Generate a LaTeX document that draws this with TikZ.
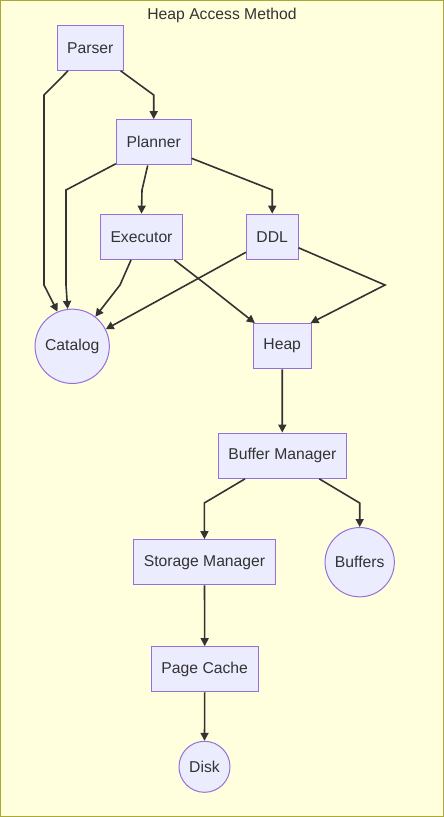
\documentclass[tikz,border=0pt]{standalone}
\usepackage{fontspec}
\setmainfont{Liberation Sans}
\usetikzlibrary{arrows.meta}
\definecolor{bgc}{HTML}{FFFFDE}
\definecolor{bgborder}{HTML}{AAAA33}
\definecolor{nodefill}{HTML}{ECECFF}
\definecolor{nodeline}{HTML}{9370DB}
\definecolor{txt}{HTML}{333333}
\begin{document}
\begin{tikzpicture}[x=1pt,y=-1pt,
  every node/.style={font=\fontsize{15.7}{18}\selectfont, text=txt},
  box/.style={draw=nodeline, fill=nodefill, line width=1pt, rectangle, inner sep=0pt, minimum height=45.3pt},
  disc/.style={draw=nodeline, fill=nodefill, line width=1pt, circle, inner sep=0pt},
  edge/.style={draw=txt, line width=1.6pt, -{Triangle[length=8pt,width=8pt]}}
]
\useasboundingbox (0,0) rectangle (444,817);
\draw[bgborder, fill=bgc, line width=1pt] (0.5,0.5) rectangle (443.5,816.5);
\node (title) at (222,15) {Heap Access Method};

\node[box, minimum width=66pt] (parser) at (90.3,47.7) {Parser};
\node[box, minimum width=74.7pt] (planner) at (153.7,142.3) {Planner};
\node[box, minimum width=82.4pt] (executor) at (141.5,236.8) {Executor};
\node[box, minimum width=51.7pt] (ddl) at (272.2,236.8) {DDL};
\node[disc, minimum size=74.3pt] (catalog) at (72.2,346.3) {Catalog};
\node[box, minimum width=57.7pt] (heap) at (282.2,346.2) {Heap};
\node[box, minimum width=128pt] (bm) at (282.3,455.7) {Buffer Manager};
\node[box, minimum width=141.6pt] (sm) at (204.5,562.3) {Storage Manager};
\node[disc, minimum size=69.3pt] (buffers) at (359.7,562.2) {Buffers};
\node[box, minimum width=106.7pt] (pc) at (204.7,669.3) {Page Cache};
\node[disc, minimum size=51pt] (disk) at (204.5,766.8) {Disk};

\draw[edge] ([xshift=-22.3pt]parser.south) -- (44,95) -- (44,285) -- (catalog.113);
\draw[edge] ([xshift=30.4pt]parser.south) -- (153.7,95) -- (planner.north);
\draw[edge] ([yshift=1.7pt]planner.south west) -- (66,190) -- (66,285) -- (catalog.97);
\draw[edge] ([xshift=-6pt]planner.south) -- (142,190) -- (executor.north);
\draw[edge] ([yshift=-16pt]planner.east) -- (272.3,190) -- (ddl.north);
\draw[edge] ([xshift=-10.5pt]executor.south) -- (120,285) -- (catalog.52);
\draw[edge] ([xshift=32.8pt]executor.south) -- (206.7,285) -- ([xshift=2pt]heap.north west);
\draw[edge] ([yshift=-15.5pt]ddl.west) -- (catalog.27);
\draw[edge] ([yshift=-11pt]ddl.east) -- (385,285) -- ([xshift=-1pt]heap.north east);
\draw[edge] (heap.south) -- (bm.north);
\draw[edge] ([xshift=-37.3pt]bm.south) -- (204.3,503) -- (sm.north);
\draw[edge] ([xshift=37pt]bm.south) -- (359.7,503) -- (buffers.north);
\draw[edge] (sm.south) -- (pc.north);
\draw[edge] (pc.south) -- (disk.north);
\end{tikzpicture}
\end{document}
